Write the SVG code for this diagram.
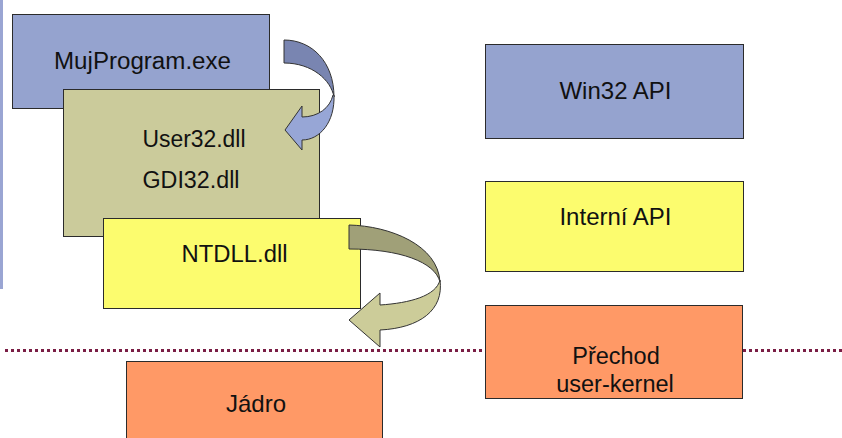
<svg xmlns="http://www.w3.org/2000/svg" width="842" height="438" viewBox="0 0 842 438">
  <style>
    .box { stroke: #2b2b2b; stroke-width: 1; }
    .blue { fill: #95a3cf; }
    .olive { fill: #cbcb9b; }
    .yellow { fill: #fcfc6e; }
    .orange { fill: #ff9966; }
    .lbl { font-family: "Liberation Sans", Arial, sans-serif; font-size: 23px; fill: #111; text-anchor: middle; }
    .arrow { stroke: #333; stroke-width: 1; stroke-linejoin: round; }
    .sep { stroke: #7a1e45; stroke-width: 3; stroke-dasharray: 3 3; fill: none; }
  </style>
  <rect width="842" height="438" fill="#ffffff"/>

  <!-- left edge strip -->
  <rect x="0" y="0" width="3" height="289" fill="#9aa5d3"/>

  <!-- user / kernel boundary -->
  <g id="connectors">
    <line class="sep" x1="5" y1="350.5" x2="842" y2="350.5"/>
  </g>

  <g id="mujprogram">
    <rect class="box blue" x="12.5" y="14.5" width="257" height="94"/>
    <text class="lbl" x="142.5" y="69" textLength="177" lengthAdjust="spacingAndGlyphs">MujProgram.exe</text>
  </g>

  <g id="user32">
    <rect class="box olive" x="63.5" y="89.5" width="256" height="147"/>
    <text class="lbl" x="194" y="147" textLength="103" lengthAdjust="spacingAndGlyphs">User32.dll</text>
    <text class="lbl" x="191" y="188" textLength="97" lengthAdjust="spacingAndGlyphs">GDI32.dll</text>
  </g>

  <!-- curved call arrow: program to system DLLs -->
  <g id="arrow-call">
    <path class="arrow" fill="#7985b1" d="M284,40 C312,40 334,62 334,97 C331,80 312,63 284,63 Z"/>
    <path class="arrow" fill="#97a6d6" d="M334,95 C335,122 320,140 302,140 L302,150 L285,130 L302,106 L302,117 C318,117 330,108 333,95 Z"/>
  </g>

  <g id="ntdll">
    <rect class="box yellow" x="103.5" y="218.5" width="257" height="90"/>
    <text class="lbl" x="234.5" y="262" textLength="106" lengthAdjust="spacingAndGlyphs">NTDLL.dll</text>
  </g>

  <!-- curved arrow: NTDLL down into the kernel transition -->
  <g id="arrow-syscall">
    <path class="arrow" fill="#a0a078" d="M349,225 C390,226 438,245 440,282 C435,262 400,249 349,249 Z"/>
    <path class="arrow" fill="#cccc99" d="M440,280 C444,310 420,328 380,330 L380,347 L349,320 L380,293 L380,305 C410,303 436,296 440,280 Z"/>
  </g>

  <g id="win32api">
    <rect class="box blue" x="485.5" y="44.5" width="258" height="94"/>
    <text class="lbl" x="615.5" y="99" style="font-size:24px">Win32 API</text>
  </g>

  <g id="interni-api">
    <rect class="box yellow" x="485.5" y="181.5" width="258" height="90"/>
    <text class="lbl" x="615.5" y="225" style="font-size:24px">Interní API</text>
  </g>

  <g id="prechod">
    <rect class="box orange" x="485.5" y="305.5" width="257" height="93"/>
    <text class="lbl" x="616" y="364" style="font-size:23.5px">Přechod</text>
    <text class="lbl" x="615" y="392" style="font-size:23.5px">user-kernel</text>
  </g>

  <g id="jadro">
    <rect class="box orange" x="126.5" y="361.5" width="256" height="80"/>
    <text class="lbl" x="256" y="412" style="font-size:24px">Jádro</text>
  </g>
</svg>
